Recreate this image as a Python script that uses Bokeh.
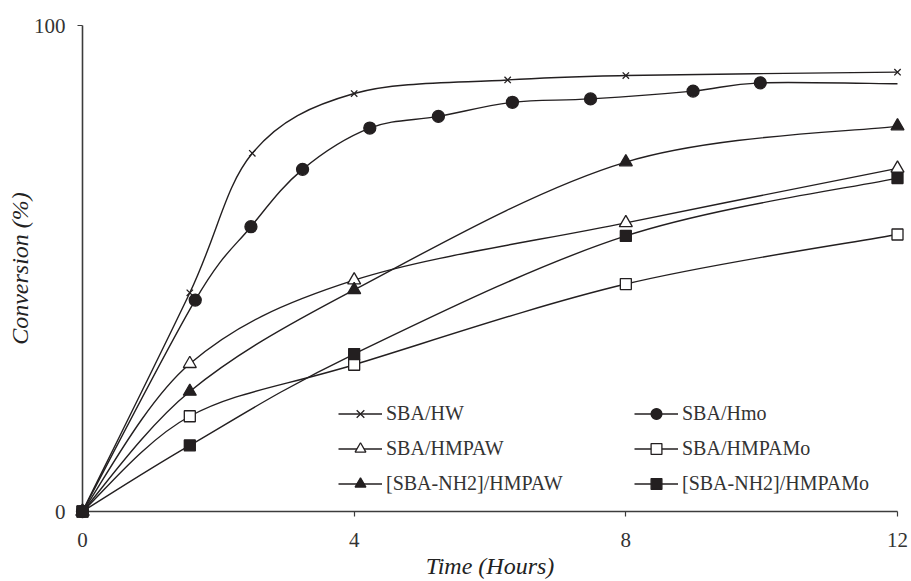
from bokeh.plotting import figure
from bokeh.models import Range1d, Legend, LegendItem, FixedTicker, ColumnDataSource
from bokeh.embed import file_html
from bokeh.resources import INLINE

# ---- data ----
hw_t = [0, 1.58, 2.5, 4.0, 6.26, 8.0, 12.0]
hw_y = [0, 45.0, 73.7, 86.0, 88.8, 89.7, 90.4]

hmo_t = [0, 1.66, 2.48, 3.24, 4.23, 5.24, 6.33, 7.48, 8.99, 9.98]
hmo_y = [0, 43.5, 58.6, 70.4, 78.9, 81.3, 84.2, 84.9, 86.5, 88.2]
hmo_tail_t = [12.0]          # line continues without a marker
hmo_tail_y = [88.0]

grp_t = [0, 1.58, 4.0, 8.0, 12.0]
hmpaw_y = [0, 30.4, 47.6, 59.4, 70.6]
hmpamo_y = [0, 19.6, 30.2, 46.8, 57.0]
nh2_hmpaw_y = [0, 24.7, 45.6, 71.9, 79.3]
nh2_hmpamo_y = [0, 13.6, 32.4, 56.7, 68.6]

x_ticks = [0, 4, 8, 12]
y_ticks = [0, 100]

INK = "#231f20"
FONT = "Liberation Serif"


def smooth_source(t, y):
    """Bezier control points for an Excel-like smoothed line through the points."""
    n = len(t)
    d = dict(x0=[], y0=[], x1=[], y1=[], cx0=[], cy0=[], cx1=[], cy1=[])
    for i in range(n - 1):
        a = i - 1 if i > 0 else i
        b = i + 2 if i + 2 < n else i + 1
        d["x0"].append(t[i]); d["y0"].append(y[i])
        d["x1"].append(t[i + 1]); d["y1"].append(y[i + 1])
        d["cx0"].append(t[i] + (t[i + 1] - t[a]) / 6.0)
        d["cy0"].append(y[i] + (y[i + 1] - y[a]) / 6.0)
        d["cx1"].append(t[i + 1] - (t[b] - t[i]) / 6.0)
        d["cy1"].append(y[i + 1] - (y[b] - y[i]) / 6.0)
    return ColumnDataSource(d)


p = figure(width=911, height=581, x_range=Range1d(0, 12), y_range=Range1d(0, 100),
           output_backend="svg", toolbar_location=None,
           min_border_left=82, min_border_right=14, min_border_top=25, min_border_bottom=69)
p.outline_line_color = None
p.xgrid.visible = False
p.ygrid.visible = False
p.background_fill_color = "white"

for ax in (p.xaxis[0], p.yaxis[0]):
    ax.axis_line_color = "#3c3c3c"
    ax.axis_line_width = 1.6
    ax.major_tick_line_color = "#3c3c3c"
    ax.major_tick_line_width = 1.2
    ax.major_tick_in = 0
    ax.major_tick_out = 5
    ax.minor_tick_line_color = None
    ax.major_label_text_font = FONT
    ax.major_label_text_font_size = "21px"
    ax.major_label_text_color = "#333333"
    ax.major_label_standoff = 12
    ax.axis_label_text_font = FONT
    ax.axis_label_text_font_style = "italic"
    ax.axis_label_text_font_size = "24px"
    ax.axis_label_text_color = "#222222"
p.xaxis.ticker = FixedTicker(ticks=x_ticks)
p.yaxis.ticker = FixedTicker(ticks=y_ticks)
p.xaxis.major_label_standoff = 16

p.yaxis.axis_label = "Conversion (%)"
p.yaxis.axis_label_standoff = -2
p.xaxis.axis_label = "Time (Hours)"
p.xaxis.axis_label_standoff = 3

series = [
    ("SBA/HW", hw_t, hw_y, "x", 9, INK),
    ("SBA/Hmo", hmo_t, hmo_y, "circle", 12, INK),
    ("SBA/HMPAW", grp_t, hmpaw_y, "triangle", 13, "white"),
    ("SBA/HMPAMo", grp_t, hmpamo_y, "square", 11, "white"),
    ("[SBA-NH2]/HMPAW", grp_t, nh2_hmpaw_y, "triangle", 13, INK),
    ("[SBA-NH2]/HMPAMo", grp_t, nh2_hmpamo_y, "square", 11, INK),
]

items = []
for name, t, y, marker, size, fill in series:
    lt, ly = list(t), list(y)
    if name == "SBA/Hmo":
        lt += hmo_tail_t
        ly += hmo_tail_y
    src = smooth_source(lt, ly)
    ln = p.bezier(x0="x0", y0="y0", x1="x1", y1="y1", cx0="cx0", cy0="cy0",
                  cx1="cx1", cy1="cy1", source=src, line_color=INK, line_width=1.4)
    ln.level = "overlay"
    sc = p.scatter(t, y, marker=marker, size=size, fill_color=fill,
                   line_color=INK, line_width=1.3)
    sc.level = "overlay"
    items.append(LegendItem(label=name, renderers=[ln, sc]))


def make_legend(its, loc):
    lg = Legend(items=its, location=loc, orientation="vertical",
                label_text_font=FONT, label_text_font_size="20px",
                label_text_color="#333333",
                glyph_width=44, glyph_height=27, label_height=27,
                label_standoff=4, spacing=8, padding=0, margin=0,
                border_line_color=None, background_fill_alpha=0)
    p.add_layout(lg, "center")
    return lg


make_legend([items[0], items[2], items[4]], (256, 14))
make_legend([items[1], items[3], items[5]], (552, 14))

open("out.html", "w").write(file_html(p, INLINE))
